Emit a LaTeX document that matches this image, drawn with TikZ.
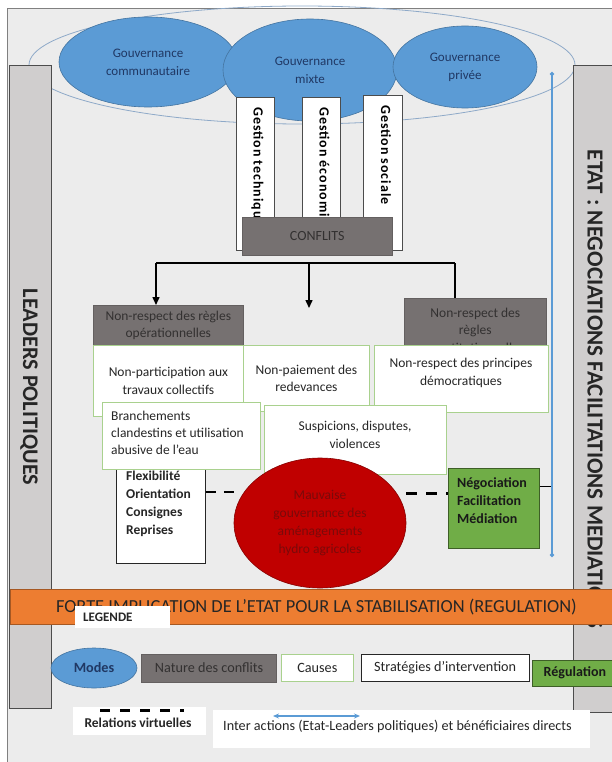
\documentclass[tikz,border=0pt]{standalone}
\usepackage{fontspec}
\setmainfont{Carlito}
\usetikzlibrary{arrows.meta,positioning,shapes.geometric}
\definecolor{framegray}{HTML}{ECECEC}
\definecolor{bargray}{HTML}{D0CECE}
\definecolor{ringblue}{HTML}{8EA9C8}
\definecolor{modeblue}{HTML}{5B9BD5}
\definecolor{modetxt}{HTML}{203864}
\definecolor{confgray}{HTML}{767171}
\definecolor{conftxt}{HTML}{333131}
\definecolor{causegreen}{HTML}{A9D18E}
\definecolor{regulgreen}{HTML}{70AD47}
\definecolor{implorange}{HTML}{ED7D31}
\definecolor{badred}{HTML}{C00000}
\definecolor{badtxt}{HTML}{7A0A0A}
\newcommand{\txtsize}{\fontsize{13.5}{17.5}\selectfont}
\newcommand{\boldsize}{\bfseries\fontsize{13.5}{18}\selectfont}
\newcommand{\legsize}{\fontsize{14.2}{16}\selectfont}
\tikzset{
  rectbox/.style args={#1,#2}{
  rectangle,
  anchor=north west,
  inner sep=0pt,
  minimum width=#1pt,
  minimum height=#2pt,
  },
  govmode/.style args={#1,#2}{
  ellipse,
  inner sep=0pt,
  fill=modeblue,
  draw=modeblue!75!black,
  line width=0.6pt,
  text=modetxt,
  align=center,
  font=\fontsize{13}{18}\selectfont,
  minimum width=#1pt,
  minimum height=#2pt,
  },
  conflit/.style args={#1,#2}{
  rectbox={#1,#2},
  fill=confgray,
  draw=confgray!85!black,
  line width=0.6pt,
  text=conftxt,
  align=center,
  font=\txtsize,
  },
  cause/.style args={#1,#2}{
  rectbox={#1,#2},
  fill=white,
  draw=causegreen,
  line width=0.8pt,
  text=black!85,
  align=center,
  font=\txtsize,
  },
  strat/.style args={#1,#2}{
  rectbox={#1,#2},
  fill=white,
  draw=black!85,
  line width=0.8pt,
  text=black!85,
  font=\txtsize,
  },
  regul/.style args={#1,#2}{
  rectbox={#1,#2},
  fill=regulgreen,
  draw=regulgreen!55!black,
  line width=0.8pt,
  text=black!90,
  font=\bfseries\fontsize{14}{18}\selectfont,
  },
  sidebar/.style args={#1,#2}{
  rectbox={#1,#2},
  fill=bargray,
  draw=black!70,
  line width=0.8pt,
  },
  plaintxt/.style={inner sep=0pt,text=black!85,font=\txtsize},
  gestbox/.style={rectbox={38,153},fill=white,draw=black!70,line width=0.8pt},
  gesttxt/.style={rotate=-90,anchor=west,inner sep=0pt,
    font=\bfseries\fontsize{14}{16}\selectfont\addfontfeatures{LetterSpace=7}},
  bartxt/.style={rotate=-90,inner sep=0pt,text=black!85,font=\bfseries\fontsize{23}{26}\selectfont},
  link/.style={line width=1.5pt,draw=black},
  dashlink/.style={line width=2.5pt,draw=black,dash pattern=on 10pt off 8pt},
  interlink/.style={line width=2pt,draw=modeblue},
  >={Triangle[length=8pt,width=7pt]},
}
\begin{document}
\begin{tikzpicture}[x=1pt,y=-1pt]
  \useasboundingbox (0,0) rectangle (611,762);
  \draw [draw=black!50,fill=framegray,line width=0.8pt] (7,8) rectangle (618,770);

  % modes de gouvernance
  \node [ellipse,draw=ringblue,line width=0.8pt,minimum width=546pt,minimum height=118pt] (ring) at (302,65) {};

  \node [sidebar={42,643}] (lead) at (9,65) {};
  \node [sidebar={47,647}] (etat) at (573,65) {};
  \node [bartxt,font=\bfseries\fontsize{22.3}{26}\selectfont] (leadt) at (29,387) {LEADERS POLITIQUES};
  \node [bartxt] (etatt) at (595,389) {ETAT : NEGOCIATIONS FACILITATIONS MEDIATIONS};

  \node [govmode={178,90}] (gcom) at (148,62) {Gouvernance\\communautaire};
  \node [govmode={174,102}] (gmix) at (310,70) {Gouvernance\\mixte};
  \node [govmode={144,82}] (gpri) at (465,67) {Gouvernance\\privée};

  % gestion
  \node [gestbox] (gtech) at (236,97) {};
  \node [gestbox] (geco) at (302,97) {};
  \node [gestbox,minimum width=39pt,minimum height=155pt] (gsoc) at (363,95) {};
  \node [gesttxt] (gtecht) at ([xshift=2pt,yshift=-10pt]gtech.north) {Gestion technique};
  \node [gesttxt] (gecot) at ([xshift=2pt,yshift=-10pt]geco.north) {Gestion économique};
  \node [gesttxt] (gsoct) at ([xshift=3pt,yshift=-10pt]gsoc.north) {Gestion sociale};

  \node [conflit={150,38},font=\fontsize{14}{16}\selectfont] (conf) at (242,217) {CONFLITS};

  % branches
  \coordinate (hl) at (156,263);
  \coordinate (hm) at (309,263);
  \coordinate (hr) at (455,263);
  \coordinate (hmend) at (309,308);

  \node [conflit={150,40}] (opr) at (93,305) {Non-respect des règles\\opérationnelles};
  \node [conflit={142,64}] (cons) at (404,298) {Non-respect des\\règles\\constitutionnelles};

  \draw [link] (hl) -- (hr);
  \draw [link,->] (hl) -- (hl |- opr.north);
  \draw [link,->] (hm) -- (hmend);
  \draw [link] (hr) -- (hr |- cons.north);

  % causes
  \node [cause={150,71}] (npart) at (93,345) {Non-participation aux\\travaux collectifs};
  \node [cause={126,66}] (npai) at (243,345) {Non-paiement des\\redevances};
  \node [cause={174,67}] (nprin) at (374,345) {};
  \node [plaintxt,align=center] (nprint) at (461,373) {Non-respect des principes\\démocratiques};

  \node [strat={89,103}] (strat) at (116,460) {};
  \node [plaintxt,anchor=west,align=left,font=\boldsize] (stratt) at (126,504) {Flexibilité\\Orientation\\Consignes\\Reprises};

  \node [cause={158,67}] (branch) at (102,402) {};
  \node [plaintxt,anchor=west,align=left,font=\fontsize{13.5}{17}\selectfont] (brancht) at (111,433) {Branchements\\clandestins et utilisation\\abusive de l’eau};
  \node [cause={182,69}] (susp) at (264,405) {};
  \node [plaintxt,align=center,font=\fontsize{13.5}{18}\selectfont] (suspt) at (355,435) {Suspicions, disputes,\\violences};

  \node [regul={91,80}] (nego) at (448,468) {};
  \node [plaintxt,anchor=west,align=left,text=black!90,font=\bfseries\fontsize{14}{18}\selectfont] (negot) at (457,501) {Négociation\\Facilitation\\Médiation};

  \draw [dashlink] ([yshift=20pt]strat.east) -- ([yshift=20pt]strat.east -| 236,0);
  \draw [dashlink,dash pattern=on 11pt off 9pt] ([yshift=15pt]nego.west -| 406,0) -- ([yshift=15pt]nego.west);

  \node [ellipse,fill=badred,draw=badred!70!black,line width=0.6pt,minimum width=172pt,minimum height=130pt,inner sep=0pt,
    text=badtxt,align=center,font=\fontsize{13.5}{18}\selectfont] (bad) at (320,523) {Mauvaise\\gouvernance des\\aménagements\\hydro agricoles};

  % etat
  \coordinate (btop) at (552,72);
  \coordinate (bbot) at (552,557);
  \draw [link] ([yshift=22pt]nego.east) -- ([yshift=22pt]nego.east -| btop);
  \draw [interlink,{Circle[length=4pt]}-{Circle[length=4pt]}] (btop) -- (bbot);

  \node [rectbox={612,35},fill=implorange,draw=implorange!70!black,line width=0.8pt,text=black!85,
    font=\fontsize{18.4}{20}\selectfont] (impl) at (10,589) {FORTE IMPLICATION DE L’ETAT POUR LA STABILISATION (REGULATION)};

  % legende
  \node [rectbox={95,22},fill=white,text width=79pt,inner xsep=8pt,text=black!85,font=\bfseries\fontsize{13}{15}\selectfont] (leg) at (75,606) {LEGENDE};

  \node [govmode={86,40},font=\bfseries\legsize] (lmode) at (94,668) {Modes};
  \node [conflit={135,28},font=\legsize,right=4pt of lmode] (lconf) {Nature des conflits};
  \node [cause={72,27},font=\legsize,right=4pt of lconf] (lcause) {Causes};
  \node [strat={168,27},font=\legsize,right=7pt of lcause] (lstrat) {Stratégies d’intervention};
  \node [regul={86,26},right=2pt of lstrat,yshift=-5pt] (lreg) {Régulation};

  \node [rectbox={133,28},fill=white] (lrel) at (73,707) {};
  \node [plaintxt,font=\bfseries\fontsize{13.5}{16}\selectfont] (lrelt) at (138,723) {Relations virtuelles};
  \coordinate (dvs) at (100,710);
  \coordinate (dve) at (184,710);
  \draw [line width=3pt,dash pattern=on 10pt off 10pt] (dvs) -- (dve);

  \node [rectbox={377,38},fill=white] (linter) at (213,710) {};
  \node [plaintxt,anchor=west,font=\legsize] (lintert) at (223,726) {Inter actions (Etat-Leaders politiques) et bénéficiaires directs};
  \coordinate (ias) at (273,716);
  \coordinate (iae) at (360,716);
  \draw [modeblue,line width=1.5pt,{Stealth[length=6pt,width=5pt]}-{Stealth[length=6pt,width=5pt]}] (ias) -- (iae);
\end{tikzpicture}
\end{document}
